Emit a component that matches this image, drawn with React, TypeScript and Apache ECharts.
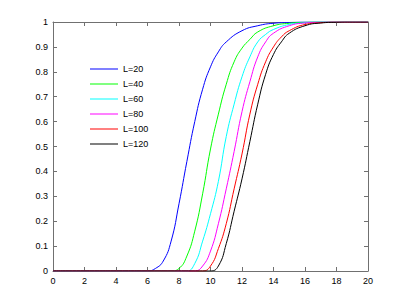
import React, { useEffect, useRef } from "react";
import * as echarts from "echarts";

const seriesNames = ["L=20", "L=40", "L=60", "L=80", "L=100", "L=120"];
const seriesColors = ["#0000ff", "#00ff00", "#00ffff", "#ff00ff", "#ff0000", "#000000"];

const xL20 = [0, 5.5, 6.0, 6.5, 7.0, 7.5, 8.0, 8.5, 9.0, 9.5, 10.0, 10.5, 11.0, 12.0, 13.0, 14.0, 15.0, 16.0, 20];
const yL20 = [0, 0, 0, 0.01, 0.04, 0.12, 0.27, 0.44, 0.6, 0.73, 0.82, 0.88, 0.92, 0.965, 0.985, 0.995, 0.998, 1, 1];

const xL40 = [0, 7.0, 7.5, 8.0, 8.5, 9.0, 9.5, 10.0, 10.5, 11.0, 11.5, 12.0, 12.5, 13.0, 14.0, 15.0, 16.0, 17.0, 20];
const yL40 = [0, 0, 0, 0.01, 0.06, 0.16, 0.31, 0.49, 0.63, 0.75, 0.84, 0.895, 0.93, 0.96, 0.985, 0.995, 0.999, 1, 1];

const xL60 = [0, 8.0, 8.5, 9.0, 9.5, 10.0, 10.5, 11.0, 11.5, 12.0, 12.5, 13.0, 13.5, 14.0, 15.0, 16.0, 17.0, 20];
const yL60 = [0, 0, 0, 0.03, 0.12, 0.23, 0.36, 0.54, 0.67, 0.78, 0.86, 0.92, 0.95, 0.97, 0.99, 0.997, 1, 1];

const xL80 = [0, 8.5, 9.0, 9.5, 10.0, 10.5, 11.0, 11.5, 12.0, 12.5, 13.0, 13.5, 14.0, 15.0, 16.0, 17.0, 18.0, 20];
const yL80 = [0, 0, 0, 0.02, 0.08, 0.19, 0.33, 0.48, 0.64, 0.76, 0.86, 0.92, 0.955, 0.985, 0.996, 0.999, 1, 1];

const xL100 = [0, 9.0, 9.5, 10.0, 10.5, 11.0, 11.5, 12.0, 12.5, 13.0, 13.5, 14.0, 14.5, 15.0, 16.0, 17.0, 18.0, 20];
const yL100 = [0, 0, 0, 0.02, 0.09, 0.19, 0.33, 0.47, 0.63, 0.75, 0.84, 0.9, 0.94, 0.965, 0.99, 0.997, 1, 1];

const xL120 = [0, 9.5, 10.0, 10.5, 11.0, 11.5, 12.0, 12.5, 13.0, 13.5, 14.0, 14.5, 15.0, 16.0, 17.0, 18.0, 19.0, 20];
const yL120 = [0, 0, 0, 0.02, 0.11, 0.24, 0.37, 0.52, 0.67, 0.79, 0.87, 0.92, 0.955, 0.985, 0.996, 0.999, 1, 1];

const allX = [xL20, xL40, xL60, xL80, xL100, xL120];
const allY = [yL20, yL40, yL60, yL80, yL100, yL120];

const FONT = "Liberation Sans, Arial, Helvetica, sans-serif";
const AXIS_COLOR = "#707070";

export default function App() {
  const ref = useRef<HTMLDivElement>(null);
  useEffect(() => {
    document.body.style.margin = "0";
    const chart = echarts.init(ref.current!, null, { renderer: "svg" });
    const axisCommon = {
      axisLine: { show: true, onZero: false, lineStyle: { color: AXIS_COLOR, width: 1 } },
      axisTick: { show: true, inside: true, length: 4, lineStyle: { color: AXIS_COLOR } },
      splitLine: { show: false },
    };
    chart.setOption({
      animation: false,
      backgroundColor: "#ffffff",
      grid: { left: 53, right: 39, top: 22, bottom: 35, containLabel: false },
      legend: {
        orient: "vertical",
        left: 90,
        top: 61.5,
        padding: 0,
        icon: "rect",
        itemWidth: 28,
        itemHeight: 1,
        itemGap: 0,
        data: seriesNames,
        textStyle: { fontSize: 9, fontFamily: FONT, color: "#000", lineHeight: 15 },
      },
      xAxis: [
        {
          type: "value",
          min: 0,
          max: 20,
          interval: 2,
          position: "bottom",
          ...axisCommon,
          axisLabel: { fontSize: 9, fontFamily: FONT, color: "#000", margin: 5 },
        },
        {
          type: "value",
          min: 0,
          max: 20,
          interval: 2,
          position: "top",
          ...axisCommon,
          axisLabel: { show: false },
        },
      ],
      yAxis: [
        {
          type: "value",
          min: 0,
          max: 1,
          interval: 0.1,
          position: "left",
          ...axisCommon,
          axisLabel: { fontSize: 9, fontFamily: FONT, color: "#000", margin: 5 },
        },
        {
          type: "value",
          min: 0,
          max: 1,
          interval: 0.1,
          position: "right",
          ...axisCommon,
          axisLabel: { show: false },
        },
      ],
      series: seriesNames.map((name, i) => ({
        name,
        type: "line",
        xAxisIndex: 0,
        yAxisIndex: 0,
        symbol: "none",
        smooth: true,
        lineStyle: { color: seriesColors[i], width: 1 },
        itemStyle: { color: seriesColors[i] },
        data: allX[i].map((x, j) => [x, allY[i][j]]),
      })),
    });
    return () => chart.dispose();
  }, []);
  return <div ref={ref} style={{ position: "fixed", left: 0, top: 0, width: 407, height: 306 }} />;
}
